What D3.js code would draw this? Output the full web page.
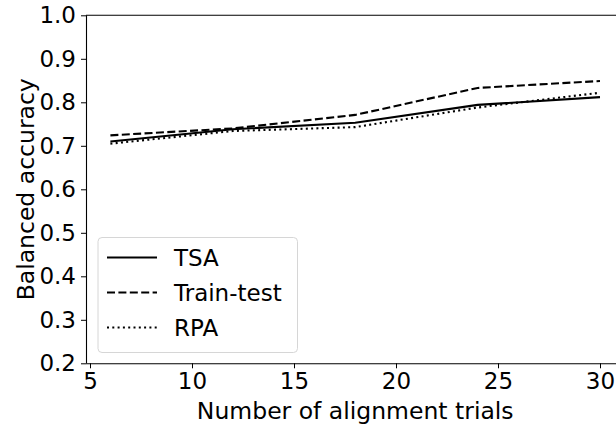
<!DOCTYPE html>
<html>
<head>
<meta charset="utf-8">
<script src="https://cdn.jsdelivr.net/npm/d3@7"></script>
<style>
html,body{margin:0;padding:0;background:#fff;}
svg{display:block;}
text{font-family:"DejaVu Sans",sans-serif;fill:#000;}
</style>
</head>
<body>
<svg id="chart" width="616" height="426"></svg>
<script>
const trials = [6, 12, 18, 24, 30];
const tsa = [0.710, 0.738, 0.753, 0.794, 0.812];
const trainTest = [0.724, 0.740, 0.771, 0.833, 0.849];
const rpa = [0.705, 0.734, 0.743, 0.788, 0.822];
const seriesNames = ["TSA", "Train-test", "RPA"];
const xTicks = [5, 10, 15, 20, 25, 30];
const yTicks = [0.2, 0.3, 0.4, 0.5, 0.6, 0.7, 0.8, 0.9, 1.0];

(function () {
const svg = d3.select("#chart");
const left = 86, topY = 15.3, bottomY = 363.3;
const x = d3.scaleLinear().domain([5, 30]).range([90, 600]);
const xMax = 31.2;
const y = d3.scaleLinear().domain([0.2, 1.0]).range([bottomY, topY]);

const styles = [
  {dash: null},
  {dash: "8,3.4"},
  {dash: "2,3.3"}
];
const data = [tsa, trainTest, rpa];

// spines
svg.append("line").attr("x1", left).attr("x2", x(xMax)).attr("y1", topY).attr("y2", topY)
  .attr("stroke", "#000").attr("stroke-width", 1.1);
svg.append("line").attr("x1", x(xMax)).attr("x2", x(xMax)).attr("y1", topY).attr("y2", bottomY)
  .attr("stroke", "#000").attr("stroke-width", 1.1);

// axes
const xAxis = d3.axisBottom(x).tickValues(xTicks).tickFormat(d3.format("d")).tickSize(5).tickPadding(4);
const gx = svg.append("g").attr("transform", `translate(0,${bottomY})`).call(xAxis);
gx.select(".domain").attr("d", `M${left},0.5H${x(xMax)}`).attr("stroke-width", 1.1);
gx.selectAll("text").attr("font-size", 23).attr("font-family", "DejaVu Sans");

const yAxis = d3.axisLeft(y).tickValues(yTicks).tickFormat(d3.format(".1f")).tickSize(5).tickPadding(5);
const gy = svg.append("g").attr("transform", `translate(${left},0)`).call(yAxis);
gy.select(".domain").attr("d", `M0.5,${topY}V${bottomY}`).attr("stroke-width", 1.1);
gy.selectAll("text").attr("font-size", 23).attr("font-family", "DejaVu Sans");

// axis labels
svg.append("text").attr("x", (left + x(xMax)) / 2).attr("y", 419).attr("text-anchor", "middle")
  .attr("font-size", 23.5).text("Number of alignment trials");
svg.append("text").attr("transform", `translate(34,${(topY + bottomY) / 2}) rotate(-90)`)
  .attr("text-anchor", "middle").attr("font-size", 23.5).text("Balanced accuracy");

// lines
const line = d3.line().x((d, i) => x(trials[i])).y(d => y(d));
data.forEach((vals, k) => {
  svg.append("path").datum(vals).attr("d", line)
    .attr("fill", "none").attr("stroke", "#000").attr("stroke-width", 2.1)
    .attr("stroke-dasharray", styles[k].dash);
});

// legend
const lg = svg.append("g");
lg.append("rect").attr("x", 98).attr("y", 237.5).attr("width", 199.5).attr("height", 115)
  .attr("rx", 4).attr("fill", "#fff").attr("fill-opacity", 0.8)
  .attr("stroke", "#d6d6d6").attr("stroke-width", 1);
seriesNames.forEach((name, k) => {
  const cy = 257.5 + k * 35;
  lg.append("line").attr("x1", 107).attr("x2", 157).attr("y1", cy).attr("y2", cy)
    .attr("stroke", "#000").attr("stroke-width", 2.1).attr("stroke-dasharray", styles[k].dash);
  lg.append("text").attr("x", 174).attr("y", cy).attr("dy", "0.36em")
    .attr("font-size", 23).text(name);
});
})();
</script>
</body>
</html>
